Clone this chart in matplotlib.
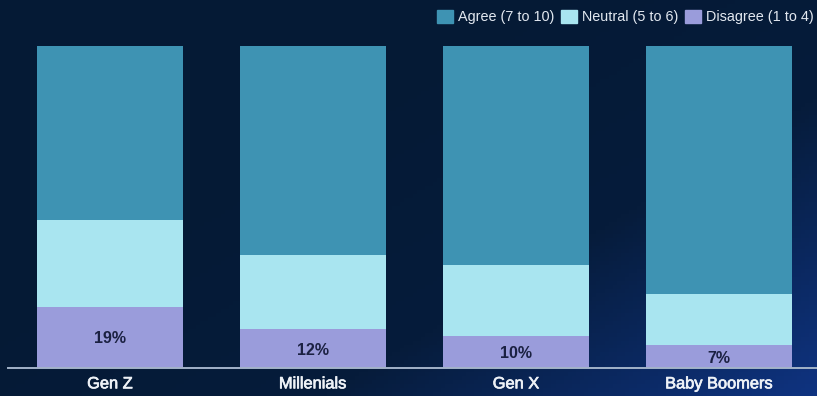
import numpy as np
import matplotlib.pyplot as plt
import matplotlib.patheffects as pe
from matplotlib.colors import LinearSegmentedColormap
from matplotlib.patches import Patch

plt.rcParams['font.family'] = ['Liberation Sans', 'DejaVu Sans']

# data
groups = ['Gen Z', 'Millenials', 'Gen X', 'Baby Boomers']
disagree = [19, 12, 10, 7]
neutral = [27, 23, 22, 16]
agree = [54, 65, 68, 77]
series_names = ['Agree (7 to 10)', 'Neutral (5 to 6)', 'Disagree (1 to 4)']

c_agree = '#3e93b3'
c_neutral = '#a9e5f0'
c_disagree = '#9a9cdb'

fig = plt.figure(figsize=(8.17, 3.96), dpi=100)

# gradient background
bg = fig.add_axes([0, 0, 1, 1], zorder=-10)
cmap = LinearSegmentedColormap.from_list('bg', ['#051a35', '#061c3b', '#0f3380'])
xx, yy = np.meshgrid(np.linspace(0, 1, 200), np.linspace(0, 1, 100))
grad = np.clip((xx * 0.75 + yy * 0.6) - 0.45, 0, 1) / 0.9
bg.imshow(grad, cmap=cmap, aspect='auto', extent=[0, 1, 0, 1], origin='upper')
bg.axis('off')

ax = fig.add_axes([8 / 817, 28 / 396, 809 / 817, 322.5 / 396])
ax.patch.set_alpha(0)
x = np.arange(len(groups))
w = 0.72
ax.bar(x, disagree, w, color=c_disagree)
ax.bar(x, neutral, w, bottom=disagree, color=c_neutral)
bott = [d + n for d, n in zip(disagree, neutral)]
ax.bar(x, agree, w, bottom=bott, color=c_agree)

for xi, d in zip(x, disagree):
    ax.text(xi, d / 2, f'{d}%', ha='center', va='center_baseline', fontsize=11.5,
            fontweight='bold', color='#1b2142')

ax.set_xlim(-0.502, 3.483)
ax.set_ylim(0, 100)
ax.set_xticks(x)
ax.set_xticklabels(groups, fontsize=11.8, color='#eef2f7')
for t in ax.get_xticklabels():
    t.set_path_effects([pe.withStroke(linewidth=0.5, foreground='#eef2f7')])
ax.tick_params(axis='x', length=0, pad=6)
ax.set_yticks([])
for s in ['top', 'right', 'left']:
    ax.spines[s].set_visible(False)
ax.spines['bottom'].set_color('#a3b3c9')
ax.spines['bottom'].set_linewidth(1.4)

handles = [Patch(color=c_agree), Patch(color=c_neutral), Patch(color=c_disagree)]
fig.legend(handles, series_names, loc='upper right', bbox_to_anchor=(1.003, 0.99),
           borderaxespad=0, ncol=3, frameon=False, fontsize=10.4,
           labelcolor='#e2e8f0', handlelength=1.07, handleheight=1.05,
           handletextpad=0.35, columnspacing=0.5)

fig.savefig('out.png', dpi=100)
